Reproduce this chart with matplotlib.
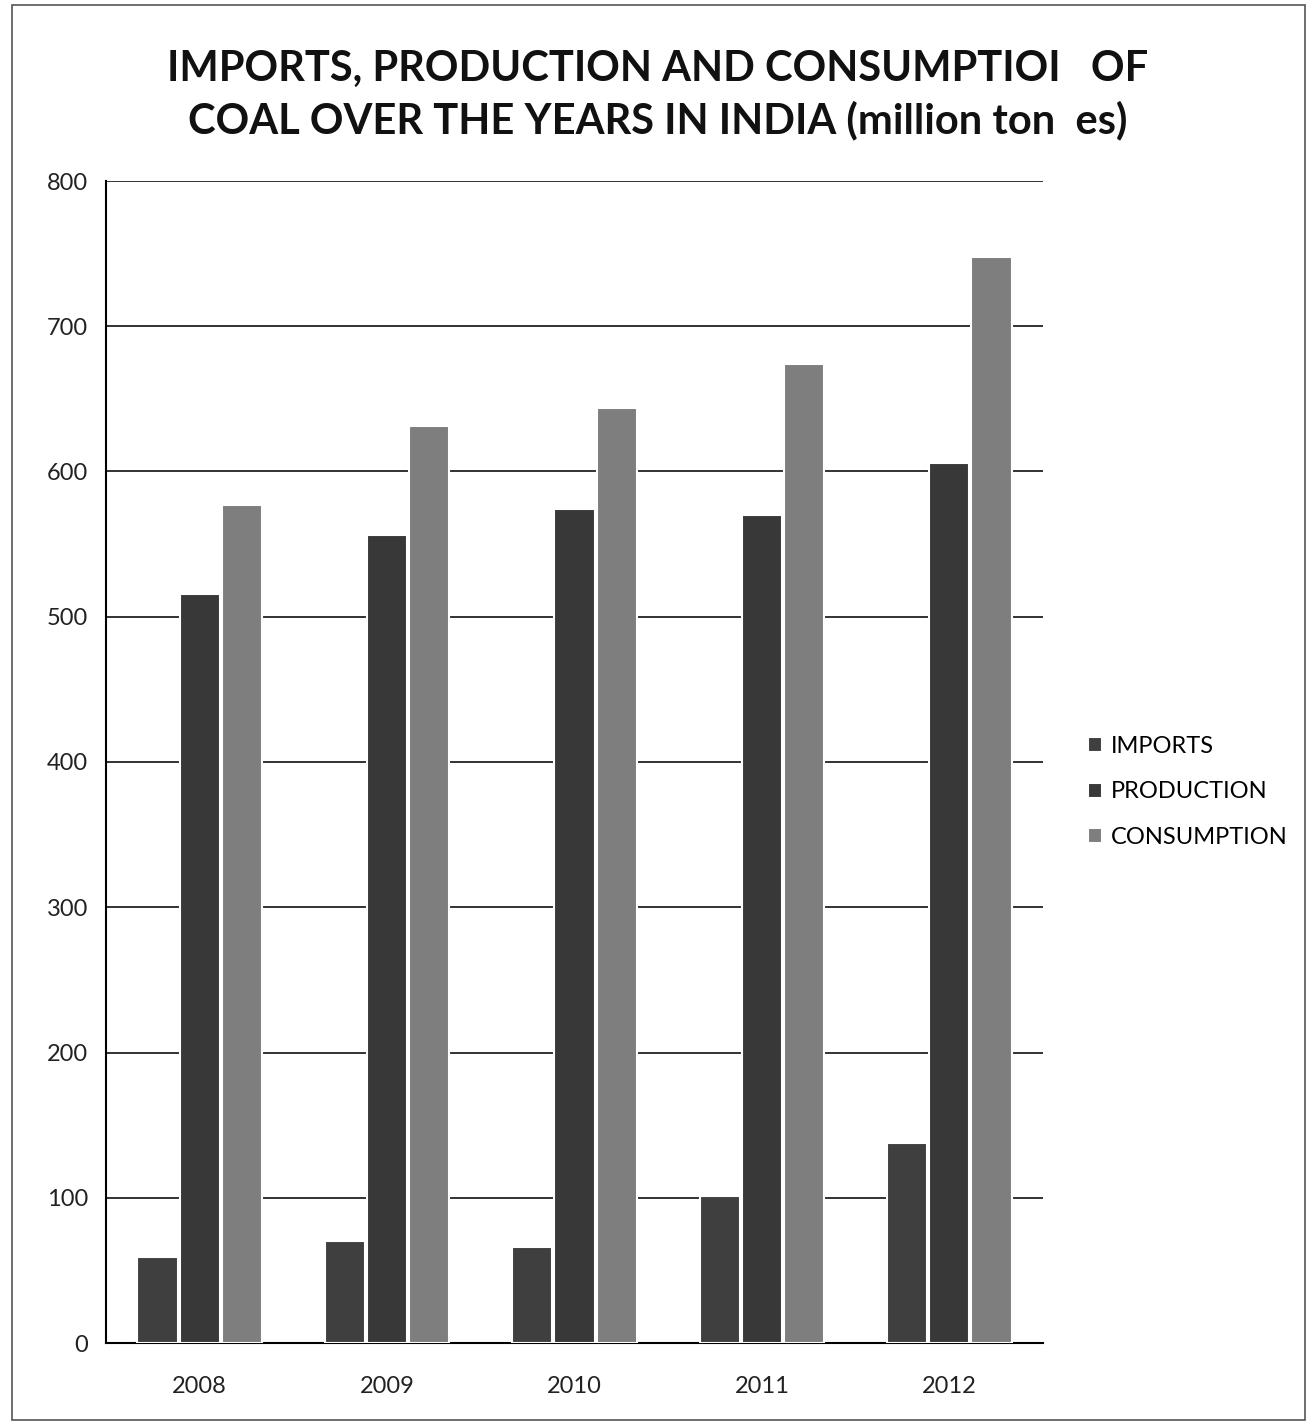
import matplotlib
matplotlib.use("Agg")
import matplotlib.pyplot as plt
import numpy as np
from matplotlib.patches import Rectangle

years = ["2008", "2009", "2010", "2011", "2012"]
imports = [59, 70, 66, 101, 138]
production = [516, 556, 574, 570, 606]
consumption = [577, 631, 644, 674, 748]
series_names = ["IMPORTS", "PRODUCTION", "CONSUMPTION"]
colors = ["#3f3f3f", "#383838", "#7e7e7e"]
yticks = [0, 100, 200, 300, 400, 500, 600, 700, 800]

plt.rcParams['font.family'] = ['Lato', 'DejaVu Sans']

fig = plt.figure(figsize=(13.12, 14.28), dpi=100)
fig.patches.append(Rectangle((12/1312, 1 - 1420/1428), (1305-12)/1312, (1420-5)/1428,
                             transform=fig.transFigure, fill=False, edgecolor="#555555", linewidth=1.2))

ax = fig.add_axes([106/1312, 1 - 1343/1428, (1043-106)/1312, (1343-181)/1428])
x = np.arange(len(years))
w = 0.215
for i, (vals, name, c) in enumerate(zip([imports, production, consumption], series_names, colors)):
    ax.bar(x + (i - 1) * (w + 0.01), vals, width=w, color=c, edgecolor="white", linewidth=1.5,
           label=name, zorder=3)

ax.set_xlim(-0.5, len(years) - 0.5)
ax.set_ylim(0, 800)
ax.set_yticks(yticks)
ax.set_xticks(x)
ax.set_xticklabels(years)
ax.yaxis.grid(True, color="#222222", linewidth=1.3, zorder=0)
ax.set_axisbelow(True)
for s in ["top", "right"]:
    ax.spines[s].set_visible(False)
ax.spines["left"].set_linewidth(1.5)
ax.spines["bottom"].set_linewidth(1.5)
ax.tick_params(axis="both", length=0, labelsize=17, colors="#222222")
ax.tick_params(axis="y", pad=13)
ax.tick_params(axis="x", pad=24)

fig.text(658/1312, 1 - 95/1428,
         "IMPORTS, PRODUCTION AND CONSUMPTIOI   OF\nCOAL OVER THE YEARS IN INDIA (million ton  es)",
         ha="center", va="center", fontsize=30, fontweight="bold", linespacing=1.4,
         family=['Lato', 'DejaVu Sans'], color="#111111")

leg = fig.legend(loc="center left", bbox_to_anchor=(1088/1312, 1 - 792/1428), frameon=False,
                 fontsize=17, handlelength=0.6, handleheight=0.6, handletextpad=0.35,
                 labelspacing=1.05, borderpad=0, borderaxespad=0)

fig.savefig("out.png", dpi=100)
